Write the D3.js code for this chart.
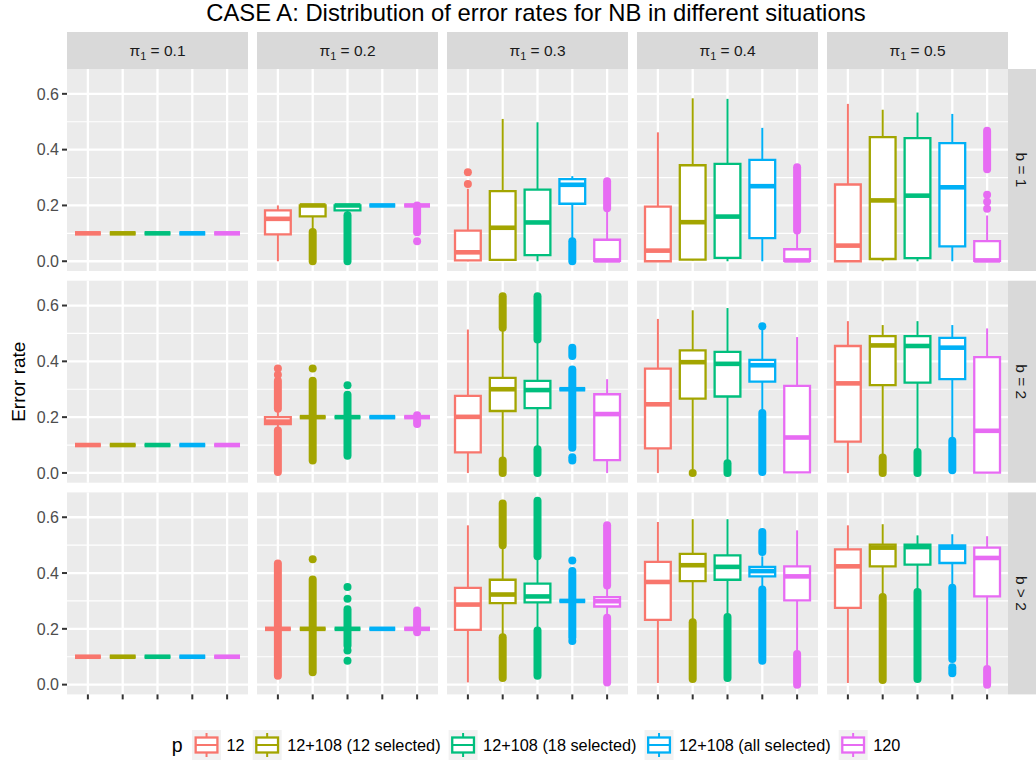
<!DOCTYPE html>
<html><head><meta charset="utf-8">
<script src="https://cdn.jsdelivr.net/npm/d3@7"></script>
<style>
html,body{margin:0;padding:0;background:#fff;}
text{font-family:"Liberation Sans",Arial,Helvetica,sans-serif;}
</style></head>
<body><div id="chart"></div>
<script>
// ---------------- data ----------------
const piLevels = ["0.1","0.2","0.3","0.4","0.5"];
const bLevels = ["b = 1","b = 2","b > 2"];
const pLevels = ["12","12+108 (12 selected)","12+108 (18 selected)","12+108 (all selected)","120"];
const pColors = ["#F8766D","#A3A500","#00BF7D","#00B0F6","#E76BF3"];
const yTicks = [0, 0.2, 0.4, 0.6];
const yMinor = [0.1, 0.3, 0.5];
const titleText = "CASE A: Distribution of error rates for NB in different situations";
const yTitle = "Error rate";
const legendTitle = "p";

// box stats per [pi][p] : [lower whisker, q1, median, q3, upper whisker]
const statsB1 = [
  [[0.1,0.1,0.1,0.1,0.1],[0.1,0.1,0.1,0.1,0.1],[0.1,0.1,0.1,0.1,0.1],[0.1,0.1,0.1,0.1,0.1],[0.1,0.1,0.1,0.1,0.1]],
  [[0,0.096,0.152,0.182,0.2],[0.11,0.161,0.2,0.2,0.2],[0.17,0.182,0.2,0.2,0.2],[0.2,0.2,0.2,0.2,0.2],[0.2,0.2,0.2,0.2,0.2]],
  [[0,0.003,0.032,0.11,0.26],[0.002,0.005,0.12,0.251,0.51],[0,0.022,0.139,0.257,0.498],[0.08,0.206,0.274,0.294,0.305],[0,0.001,0.003,0.077,0.182]],
  [[0,0,0.038,0.196,0.462],[0.003,0.006,0.14,0.344,0.584],[0,0.012,0.16,0.349,0.582],[0,0.083,0.269,0.363,0.478],[0,0.001,0.003,0.043,0.102]],
  [[0,0,0.056,0.275,0.564],[0,0.008,0.218,0.445,0.543],[0,0.011,0.235,0.441,0.533],[0,0.053,0.265,0.423,0.528],[0,0.001,0.003,0.072,0.164]]
];
const statsB2 = [
  [[0.1,0.1,0.1,0.1,0.1],[0.1,0.1,0.1,0.1,0.1],[0.1,0.1,0.1,0.1,0.1],[0.1,0.1,0.1,0.1,0.1],[0.1,0.1,0.1,0.1,0.1]],
  [[0.163,0.175,0.184,0.2,0.22],[0.2,0.2,0.2,0.2,0.2],[0.2,0.2,0.2,0.2,0.2],[0.2,0.2,0.2,0.2,0.2],[0.2,0.2,0.2,0.2,0.2]],
  [[0,0.074,0.201,0.276,0.514],[0.05,0.222,0.3,0.341,0.514],[0.091,0.232,0.297,0.33,0.475],[0.3,0.3,0.3,0.3,0.3],[0,0.046,0.211,0.282,0.336]],
  [[0,0.088,0.246,0.374,0.552],[0.012,0.266,0.397,0.439,0.583],[0.038,0.274,0.391,0.434,0.591],[0.222,0.327,0.386,0.405,0.514],[0,0.002,0.127,0.312,0.487]],
  [[0,0.112,0.321,0.455,0.544],[0.062,0.315,0.457,0.49,0.53],[0.08,0.324,0.455,0.49,0.544],[0.121,0.336,0.449,0.484,0.53],[0,0.001,0.151,0.415,0.518]]
];
const statsB3 = [
  [[0.1,0.1,0.1,0.1,0.1],[0.1,0.1,0.1,0.1,0.1],[0.1,0.1,0.1,0.1,0.1],[0.1,0.1,0.1,0.1,0.1],[0.1,0.1,0.1,0.1,0.1]],
  [[0.2,0.2,0.2,0.2,0.2],[0.2,0.2,0.2,0.2,0.2],[0.2,0.2,0.2,0.2,0.2],[0.2,0.2,0.2,0.2,0.2],[0.2,0.2,0.2,0.2,0.2]],
  [[0.008,0.196,0.287,0.347,0.571],[0.176,0.292,0.323,0.376,0.493],[0.2,0.295,0.316,0.362,0.451],[0.3,0.3,0.3,0.3,0.3],[0.248,0.28,0.299,0.314,0.35]],
  [[0.006,0.232,0.368,0.44,0.583],[0.23,0.371,0.428,0.469,0.593],[0.248,0.376,0.422,0.463,0.593],[0.347,0.388,0.407,0.422,0.46],[0.122,0.302,0.388,0.424,0.553]],
  [[0.006,0.275,0.424,0.485,0.571],[0.32,0.424,0.491,0.502,0.575],[0.338,0.43,0.493,0.502,0.535],[0.352,0.436,0.491,0.499,0.539],[0.068,0.316,0.454,0.491,0.532]]
];
// outliers per [pi][p] : list of [from, to] runs of dense outlier points (single point when equal)
const outB1 = [
  [[],[],[],[],[]],
  [[],[[0,0.105]],[[0,0.165]],[],[[0.104,0.2],[0.072,0.072]]],
  [[[0.277,0.277],[0.319,0.319]],[],[],[[0,0.072]],[[0.19,0.287]]],
  [[],[],[],[],[[0.11,0.337]]],
  [[],[],[],[],[[0.188,0.188],[0.213,0.213],[0.238,0.238],[0.33,0.468]]]
];
const outB2 = [
  [[],[],[],[],[]],
  [[[0.003,0.152],[0.23,0.33],[0.352,0.352],[0.374,0.374]],[[0.045,0.33],[0.374,0.374]],[[0.062,0.28],[0.314,0.314]],[],[[0.175,0.19],[0.207,0.207]]],
  [[],[[0,0.045],[0.52,0.633]],[[0,0.085],[0.478,0.633]],[[0.045,0.056],[0.09,0.371],[0.419,0.449]],[]],
  [[],[[0,0]],[[0,0.035]],[[0.003,0.215],[0.526,0.526]],[]],
  [[],[[0,0.055]],[[0,0.075]],[[0.01,0.115]],[]]
];
const outB3 = [
  [[],[],[],[],[]],
  [[[0.032,0.434]],[[0.044,0.377],[0.449,0.449]],[[0.086,0.086],[0.122,0.122],[0.14,0.27],[0.308,0.308],[0.35,0.35]],[],[[0.188,0.266]]],
  [[],[[0.024,0.17],[0.5,0.649]],[[0.032,0.194],[0.46,0.659]],[[0.156,0.156],[0.17,0.407],[0.445,0.445]],[[0.008,0.24],[0.355,0.571]]],
  [[],[[0.02,0.224]],[[0.024,0.242]],[[0.086,0.341],[0.475,0.547]],[[0,0.11]]],
  [[],[[0.017,0.314]],[[0.02,0.332]],[[0.041,0.062],[0.092,0.347]],[[0,0.056]]]
];
const allStats = [statsB1, statsB2, statsB3];
const allOut = [outB1, outB2, outB3];

// ---------------- layout ----------------
const W = 1036, H = 761;
const panelX0 = 67, panelW = 181, stepX = 190;
const panelY0 = 69, panelH = 202, stepY = 211.7;
const stripTop = 32, stripRightW = 28;
const boxFrac = 0.74;
const lwBox = 2.3, lwWhisk = 2.0, lwMed = 4.6, ptR = 4;

const svg = d3.select("#chart").append("svg").attr("width", W).attr("height", H)
  .style("display","block").style("background","#fff");

svg.append("text").attr("x", 536).attr("y", 21).attr("text-anchor","middle")
  .attr("font-size", 23.8).attr("fill","#000").text(titleText);

const yDomain = [-0.035, 0.689];

bLevels.forEach((bl, r) => {
  const top = panelY0 + r*stepY;
  const y = d3.scaleLinear().domain(yDomain).range([top + panelH, top]);
  piLevels.forEach((pl, c) => {
    const left = panelX0 + c*stepX;
    const x = d3.scalePoint().domain(pLevels).range([left, left + panelW]).padding(0.6);
    const g = svg.append("g");
    g.append("rect").attr("x", left).attr("y", top).attr("width", panelW).attr("height", panelH).attr("fill","#ebebeb");
    g.selectAll(".minor").data(yMinor).join("line")
      .attr("x1", left).attr("x2", left+panelW).attr("y1", d=>y(d)).attr("y2", d=>y(d))
      .attr("stroke","#fff").attr("stroke-width",1.2);
    g.selectAll(".major").data(yTicks).join("line")
      .attr("x1", left).attr("x2", left+panelW).attr("y1", d=>y(d)).attr("y2", d=>y(d))
      .attr("stroke","#fff").attr("stroke-width",2.3);
    g.selectAll(".vmaj").data(pLevels).join("line")
      .attr("x1", d=>x(d)).attr("x2", d=>x(d)).attr("y1", top).attr("y2", top+panelH)
      .attr("stroke","#fff").attr("stroke-width",2.3);

    const bw = x.step()*boxFrac;
    pLevels.forEach((p, k) => {
      const s = allStats[r][c][k];
      const col = pColors[k];
      const cx = x(p);
      allOut[r][c][k].forEach(run => {
        if (run[0] === run[1]) {
          g.append("circle").attr("cx", cx).attr("cy", y(run[0])).attr("r", ptR).attr("fill", col);
        } else {
          g.append("line").attr("x1", cx).attr("x2", cx).attr("y1", y(run[0])).attr("y2", y(run[1]))
            .attr("stroke", col).attr("stroke-width", ptR*2).attr("stroke-linecap","round");
        }
      });
      g.append("line").attr("x1", cx).attr("x2", cx).attr("y1", y(s[3])).attr("y2", y(s[4]))
        .attr("stroke", col).attr("stroke-width", lwWhisk);
      g.append("line").attr("x1", cx).attr("x2", cx).attr("y1", y(s[0])).attr("y2", y(s[1]))
        .attr("stroke", col).attr("stroke-width", lwWhisk);
      const x0 = cx - bw/2, x1 = cx + bw/2;
      g.append("path").attr("d", `M${x0},${y(s[3])}H${x1}V${y(s[1])}H${x0}Z`)
        .attr("fill","#fff").attr("stroke", col).attr("stroke-width", lwBox);
      g.append("line").attr("x1", x0).attr("x2", x1).attr("y1", y(s[2])).attr("y2", y(s[2]))
        .attr("stroke", col).attr("stroke-width", lwMed);
    });

    if (r === 0) {
      svg.append("rect").attr("x", left).attr("y", stripTop).attr("width", panelW).attr("height", top - stripTop).attr("fill","#d9d9d9");
      const t = svg.append("text").attr("x", left + panelW/2).attr("y", 56).attr("text-anchor","middle")
        .attr("font-size", 15.5).attr("fill","#1a1a1a");
      t.append("tspan").text("π");
      t.append("tspan").attr("font-size", 11).attr("dy", 4).text("1");
      t.append("tspan").attr("dy", -4).text(" = " + pl);
    }
    if (c === 0) {
      const ax = svg.append("g");
      ax.selectAll("line").data(yTicks).join("line")
        .attr("x1", left-5).attr("x2", left).attr("y1", d=>y(d)).attr("y2", d=>y(d))
        .attr("stroke","#333").attr("stroke-width",2);
      ax.selectAll("text").data(yTicks).join("text")
        .attr("x", left-8).attr("y", d=>y(d)).attr("dy","0.36em").attr("text-anchor","end")
        .attr("font-size", 16).attr("fill","#4d4d4d").text(d=>d3.format(".1f")(d));
    }
    if (r === bLevels.length-1) {
      svg.append("g").selectAll("line").data(pLevels).join("line")
        .attr("x1", d=>x(d)).attr("x2", d=>x(d)).attr("y1", top+panelH).attr("y2", top+panelH+5)
        .attr("stroke","#333").attr("stroke-width",2);
    }
  });
  const sx = panelX0 + 4*stepX + panelW;
  svg.append("rect").attr("x", sx).attr("y", top).attr("width", stripRightW).attr("height", panelH).attr("fill","#d9d9d9");
  svg.append("text").attr("transform", `translate(${sx + stripRightW/2},${top + panelH/2}) rotate(90)`)
    .attr("text-anchor","middle").attr("dy","0.36em").attr("font-size", 15.5).attr("fill","#1a1a1a").text(bl);
});

svg.append("text").attr("transform", `translate(18,${panelY0 + (2*stepY + panelH)/2}) rotate(-90)`)
  .attr("text-anchor","middle").attr("dy","0.36em").attr("font-size", 19).attr("fill","#000").text(yTitle);

// legend
const legY = 745, keyW = 29, keyH = 30;
const leg = svg.append("g");
const lt = leg.append("text").attr("x", 0).attr("y", legY).attr("dy","0.36em").attr("font-size", 19.5).attr("fill","#000").text(legendTitle);
let cur = lt.node().getComputedTextLength() + 9.5;
pLevels.forEach((p, k) => {
  const kg = leg.append("g").attr("transform", `translate(${cur},${legY - keyH/2})`);
  kg.append("rect").attr("width", keyW).attr("height", keyH).attr("fill","#f2f2f2");
  const cx = keyW/2;
  kg.append("line").attr("x1",cx).attr("x2",cx).attr("y1",keyH*0.1).attr("y2",keyH*0.25).attr("stroke",pColors[k]).attr("stroke-width",lwWhisk);
  kg.append("line").attr("x1",cx).attr("x2",cx).attr("y1",keyH*0.75).attr("y2",keyH*0.9).attr("stroke",pColors[k]).attr("stroke-width",lwWhisk);
  kg.append("rect").attr("x", keyW*0.125).attr("y", keyH*0.25).attr("width", keyW*0.75).attr("height", keyH*0.5)
    .attr("fill","#fff").attr("stroke",pColors[k]).attr("stroke-width",lwBox);
  kg.append("line").attr("x1",keyW*0.125).attr("x2",keyW*0.875).attr("y1",keyH*0.5).attr("y2",keyH*0.5).attr("stroke",pColors[k]).attr("stroke-width",lwWhisk);
  cur += keyW + 5.5;
  const tx = leg.append("text").attr("x", cur).attr("y", legY).attr("dy","0.36em").attr("font-size", 16.3).attr("fill","#000").text(p);
  cur += tx.node().getComputedTextLength() + 8;
});
const legWidth = cur - 8;
leg.attr("transform", `translate(${536 - legWidth/2},0)`);
</script>
</body></html>
